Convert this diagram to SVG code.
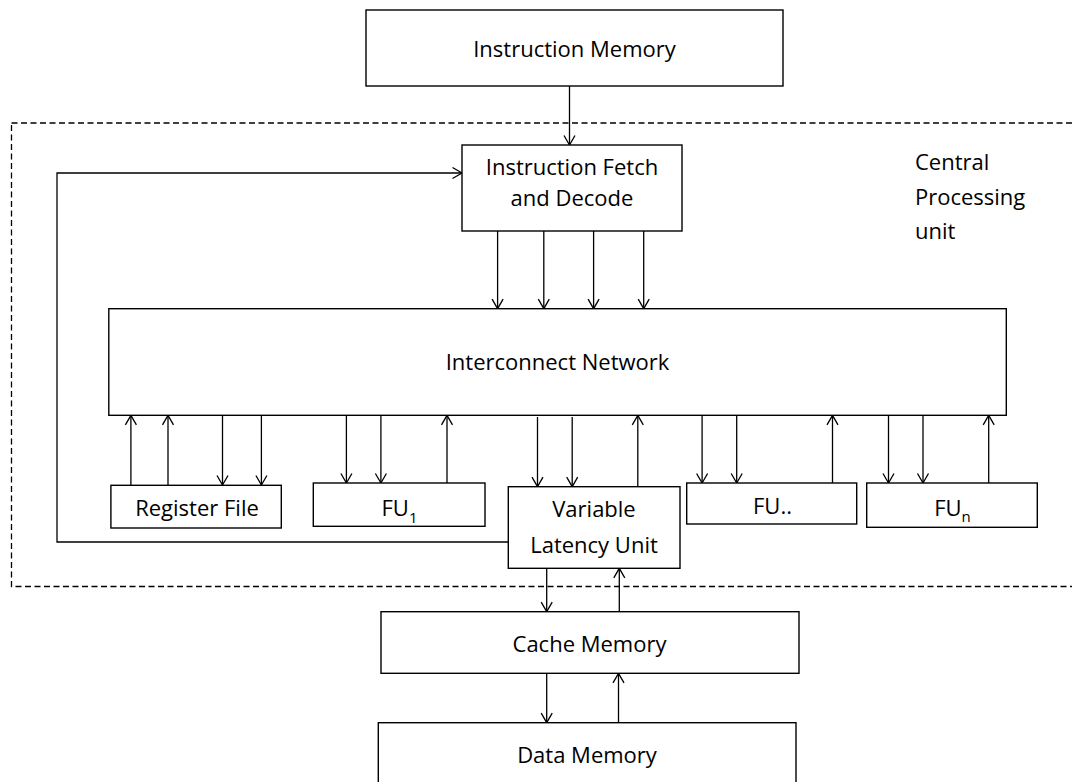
<svg xmlns="http://www.w3.org/2000/svg" width="1072" height="782" viewBox="0 0 1072 782">
  <style>
    .box { fill: #fff; stroke: #000; stroke-width: 1.4; }
    .lbl { font-family: "Open Sans", "Liberation Sans", sans-serif; font-size: 22px; fill: #000; text-anchor: middle; }
    .lbl-l { font-family: "Open Sans", "Liberation Sans", sans-serif; font-size: 22px; fill: #000; }
    .sub { font-size: 15px; }
    .conn { fill: none; stroke: #000; stroke-width: 1.3; marker-end: url(#arr); }
    .dash { fill: none; stroke: #000; stroke-width: 1.3; stroke-dasharray: 6 3.5; }
  </style>
  <defs>
    <marker id="arr" viewBox="-11 -7 13 14" markerWidth="13" markerHeight="14" refX="0" refY="0" orient="auto" markerUnits="userSpaceOnUse" overflow="visible">
      <path d="M-9.5,-5.5 L0,0 L-9.5,5.5" fill="none" stroke="#000" stroke-width="1.3"/>
    </marker>
  </defs>
  <rect width="1072" height="782" fill="#fff"/>

  <g id="cpu-boundary">
    <rect class="dash" x="11.5" y="123" width="1070" height="463.5"/>
    <text class="lbl-l" x="915" y="169.5">Central</text>
    <text class="lbl-l" x="915" y="204.5">Processing</text>
    <text class="lbl-l" x="915" y="238.5">unit</text>
  </g>

  <g id="connectors">
    <line class="conn" x1="569.5" y1="86" x2="569.5" y2="145"/>
    <polyline class="conn" points="508.5,542 57,542 57,173 462,173"/>
    <line class="conn" x1="497.6" y1="231" x2="497.6" y2="308.7"/>
    <line class="conn" x1="543.8" y1="231" x2="543.8" y2="308.7"/>
    <line class="conn" x1="593.6" y1="231" x2="593.6" y2="308.7"/>
    <line class="conn" x1="643.7" y1="229" x2="643.7" y2="308.7"/>
    <line class="conn" x1="130.9" y1="485" x2="130.9" y2="415.3"/>
    <line class="conn" x1="168" y1="485" x2="168" y2="415.3"/>
    <line class="conn" x1="222.5" y1="415.3" x2="222.5" y2="485"/>
    <line class="conn" x1="261.4" y1="415.3" x2="261.4" y2="485"/>
    <line class="conn" x1="346.4" y1="415.3" x2="346.4" y2="483"/>
    <line class="conn" x1="380.9" y1="415.3" x2="380.9" y2="483"/>
    <line class="conn" x1="447" y1="483" x2="447" y2="415.3"/>
    <line class="conn" x1="537.5" y1="417" x2="537.5" y2="486.7"/>
    <line class="conn" x1="572.2" y1="417" x2="572.2" y2="486.7"/>
    <line class="conn" x1="637.8" y1="486.7" x2="637.8" y2="415.3"/>
    <line class="conn" x1="702.1" y1="415.3" x2="702.1" y2="483"/>
    <line class="conn" x1="736.7" y1="415.3" x2="736.7" y2="483"/>
    <line class="conn" x1="832.5" y1="483" x2="832.5" y2="415.3"/>
    <line class="conn" x1="888.5" y1="415.3" x2="888.5" y2="483"/>
    <line class="conn" x1="923" y1="415.3" x2="923" y2="483"/>
    <line class="conn" x1="988.7" y1="483" x2="988.7" y2="415.3"/>
    <line class="conn" x1="546.7" y1="568.3" x2="546.7" y2="611.7"/>
    <line class="conn" x1="619.3" y1="611.7" x2="619.3" y2="568.3"/>
    <line class="conn" x1="546.7" y1="673.3" x2="546.7" y2="722.7"/>
    <line class="conn" x1="618.5" y1="722.7" x2="618.5" y2="673.3"/>
  </g>

  <g id="instruction-memory">
    <rect class="box" x="366" y="10" width="417" height="76"/>
    <text class="lbl" x="574.5" y="56.7">Instruction Memory</text>
  </g>

  <g id="fetch-decode">
    <rect class="box" x="462" y="145" width="220" height="86"/>
    <text class="lbl" x="572" y="175">Instruction Fetch</text>
    <text class="lbl" x="572" y="206">and Decode</text>
  </g>

  <g id="interconnect">
    <rect class="box" x="108.8" y="308.7" width="897.5" height="106.6"/>
    <text class="lbl" x="557.5" y="370">Interconnect Network</text>
  </g>

  <g id="register-file">
    <rect class="box" x="110.9" y="485.3" width="170.4" height="42.7"/>
    <text class="lbl" x="197" y="515.7">Register File</text>
  </g>

  <g id="fu1">
    <rect class="box" x="313.3" y="483" width="171.7" height="43.3"/>
    <text class="lbl" x="399.5" y="515.7">FU<tspan class="sub" dy="7">1</tspan></text>
  </g>

  <g id="vlu">
    <rect class="box" x="508.3" y="486.7" width="171.7" height="81.6"/>
    <text class="lbl" x="594" y="516.7">Variable</text>
    <text class="lbl" x="594" y="553.3">Latency Unit</text>
  </g>

  <g id="fu-dots">
    <rect class="box" x="686.7" y="483" width="170" height="41"/>
    <text class="lbl" x="772.5" y="514">FU..</text>
  </g>

  <g id="fun">
    <rect class="box" x="866.7" y="483" width="170.6" height="44.3"/>
    <text class="lbl" x="952.5" y="515.7">FU<tspan class="sub" dy="6">n</tspan></text>
  </g>

  <g id="cache-memory">
    <rect class="box" x="381" y="611.7" width="418" height="61.6"/>
    <text class="lbl" x="589.5" y="652">Cache Memory</text>
  </g>

  <g id="data-memory">
    <rect class="box" x="378.3" y="722.7" width="417.7" height="80"/>
    <text class="lbl" x="587" y="762.7">Data Memory</text>
  </g>
</svg>
